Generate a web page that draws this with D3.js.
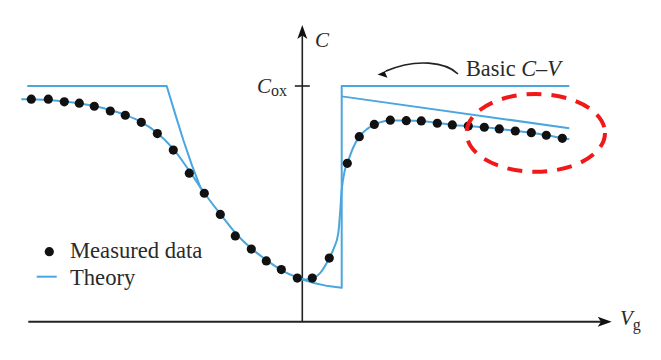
<!DOCTYPE html>
<html><head><meta charset="utf-8">
<script src="https://cdn.jsdelivr.net/npm/d3@7"></script>
<style>html,body{margin:0;padding:0;background:#fff;} svg{display:block;}</style>
</head><body>
<svg id="chart" width="661" height="360"></svg>
<script>
// ---- data (Vg in arbitrary units, C normalised to Cox) ----
const measuredV = [-2.71,-2.54,-2.38,-2.23,-2.08,-1.92,-1.77,-1.61,-1.45,-1.29,-1.13,-0.98,-0.82,-0.67,-0.51,-0.36,-0.21,-0.05,0.10,0.27,0.45,0.57,0.72,0.88,1.04,1.19,1.35,1.50,1.66,1.82,1.97,2.13,2.29,2.44,2.60];
const measuredC = [0.944,0.944,0.933,0.927,0.914,0.894,0.876,0.846,0.798,0.728,0.630,0.545,0.455,0.364,0.308,0.258,0.221,0.185,0.185,0.270,0.672,0.785,0.837,0.855,0.853,0.852,0.842,0.835,0.830,0.825,0.818,0.809,0.802,0.791,0.778];

const theoryV = [-2.81,-2.71,-2.54,-2.38,-2.08,-1.77,-1.61,-1.45,-1.29,-1.13,-0.98,-0.82,-0.66,-0.51,-0.36,-0.21,-0.05,0.03,0.11,0.18,0.27,0.317,0.36,0.38,0.392,0.407,0.427,0.45,0.507,0.567,0.65,0.73,0.88,1.04,1.20,1.35,1.51,1.66,1.82,1.98,2.14,2.29,2.45,2.60,2.67];
const theoryC = [0.944,0.943,0.941,0.934,0.915,0.877,0.847,0.801,0.733,0.640,0.546,0.457,0.372,0.311,0.262,0.219,0.188,0.179,0.185,0.207,0.270,0.313,0.376,0.474,0.550,0.601,0.646,0.672,0.737,0.784,0.818,0.838,0.854,0.854,0.852,0.843,0.835,0.830,0.825,0.818,0.809,0.802,0.791,0.779,0.774];

const basicLeftV = [-2.75,-1.356,-1.273,-1.19,-1.103,-1.013];
const basicLeftC = [1.0,1.0,0.884,0.771,0.663,0.563];

const basicRightV = [0.0,0.127,0.257,0.394,0.394,2.67];
const basicRightC = [0.179,0.163,0.151,0.144,1.0,1.0];

const slopedV = [0.394,2.67];
const slopedC = [0.956,0.821];

const legendLabels = ["Measured data","Theory"];
const coxTick = [1.0];
const annotationText = ["Basic ","C","\u2013","V"];
const highlight = {v:2.335, c:0.801, rv:0.692, rc:0.165};

// ---- drawing ----
const svg = d3.select("#chart");
const x = d3.scaleLinear().domain([-3,3]).range([2.3,602.3]);
const y = d3.scaleLinear().domain([0,1]).range([321.7,86]);
const blue = "#4aa6df";
const ink = "#2a2a2a";
const serif = "'Liberation Serif','Times New Roman',serif";

const zip = (a,b) => a.map((v,i)=>[v,b[i]]);
const lin = d3.line().x(d=>x(d[0])).y(d=>y(d[1]));
const smooth = d3.line().x(d=>x(d[0])).y(d=>y(d[1])).curve(d3.curveMonotoneX);

// axes
const xAxisY = y(0), yAxisX = x(0);
svg.append("line").attr("x1",x(-2.74)).attr("x2",x(3.0)).attr("y1",xAxisY).attr("y2",xAxisY)
  .attr("stroke","#222").attr("stroke-width",2);
svg.append("path").attr("d",`M${x(3.094)},${xAxisY} L${x(2.954)},${xAxisY-5} L${x(2.987)},${xAxisY} L${x(2.954)},${xAxisY+5} Z`).attr("fill","#111");
svg.append("line").attr("x1",yAxisX).attr("x2",yAxisX).attr("y1",xAxisY).attr("y2",34)
  .attr("stroke","#222").attr("stroke-width",1.6);
svg.append("path").attr("d",`M${yAxisX},25 L${yAxisX-5},39 L${yAxisX},35.5 L${yAxisX+5},39 Z`).attr("fill","#111");

// Cox tick
svg.selectAll(".ctick").data(coxTick).enter().append("line")
  .attr("x1",yAxisX-7.5).attr("x2",yAxisX+7.5).attr("y1",d=>y(d)).attr("y2",d=>y(d))
  .attr("stroke","#222").attr("stroke-width",1.6);
const cox = svg.append("text").attr("x",287).attr("y",y(1)+7).attr("text-anchor","end")
  .attr("font-family",serif).attr("font-size",21).attr("fill",ink);
cox.append("tspan").attr("font-style","italic").text("C");
cox.append("tspan").attr("font-size",16).attr("dy",3).text("ox");

// axis labels
svg.append("text").attr("x",315).attr("y",47).attr("font-family",serif).attr("font-style","italic")
  .attr("font-size",21).attr("fill",ink).text("C");
const vg = svg.append("text").attr("x",620).attr("y",325).attr("font-family",serif).attr("font-size",21).attr("fill",ink);
vg.append("tspan").attr("font-style","italic").text("V");
vg.append("tspan").attr("font-size",16).attr("dy",5).text("g");

// theory lines
const g = svg.append("g").attr("fill","none").attr("stroke",blue).attr("stroke-width",2).attr("stroke-linejoin","round");
g.append("path").attr("d",lin(zip(basicLeftV,basicLeftC)));
g.append("path").attr("d",lin(zip(basicRightV,basicRightC)));
g.append("path").attr("d",lin(zip(slopedV,slopedC)));
g.append("path").attr("d",smooth(zip(theoryV,theoryC)));

// measured dots
svg.append("g").selectAll("circle").data(zip(measuredV,measuredC)).enter().append("circle")
  .attr("cx",d=>x(d[0])).attr("cy",d=>y(d[1])).attr("r",4.6).attr("fill","#111");

// annotation "Basic C–V"
const ann = svg.append("text").attr("x",466).attr("y",76).attr("font-family",serif).attr("font-size",22.3).attr("fill",ink);
annotationText.forEach((t,i)=>{ ann.append("tspan").attr("font-style", (t==="C"||t==="V")?"italic":"normal").text(t); });
svg.append("path").attr("d","M458,74 C446,62 416,58 386,71").attr("fill","none").attr("stroke","#222").attr("stroke-width",1.6);
svg.append("path").attr("d","M377.5,74.5 L388.5,69.5 L385,72.6 L387.5,77.8 Z").attr("fill","#111");

// legend
svg.append("circle").attr("cx",49.3).attr("cy",251.7).attr("r",4.6).attr("fill","#111");
svg.append("text").attr("x",70).attr("y",258.3).attr("font-family",serif).attr("font-size",22.6).attr("fill",ink).text(legendLabels[0]);
svg.append("line").attr("x1",36.7).attr("x2",56.7).attr("y1",276.7).attr("y2",276.7).attr("stroke",blue).attr("stroke-width",2);
svg.append("text").attr("x",70).attr("y",285).attr("font-family",serif).attr("font-size",22.6).attr("fill",ink).text(legendLabels[1]);

// highlight ellipse
svg.append("ellipse").attr("cx",x(highlight.v)).attr("cy",y(highlight.c))
  .attr("rx",x(highlight.rv)-x(0)).attr("ry",y(0)-y(highlight.rc))
  .attr("fill","none").attr("stroke","#f01818").attr("stroke-width",4).attr("stroke-dasharray","15,10");
</script>
</body></html>
